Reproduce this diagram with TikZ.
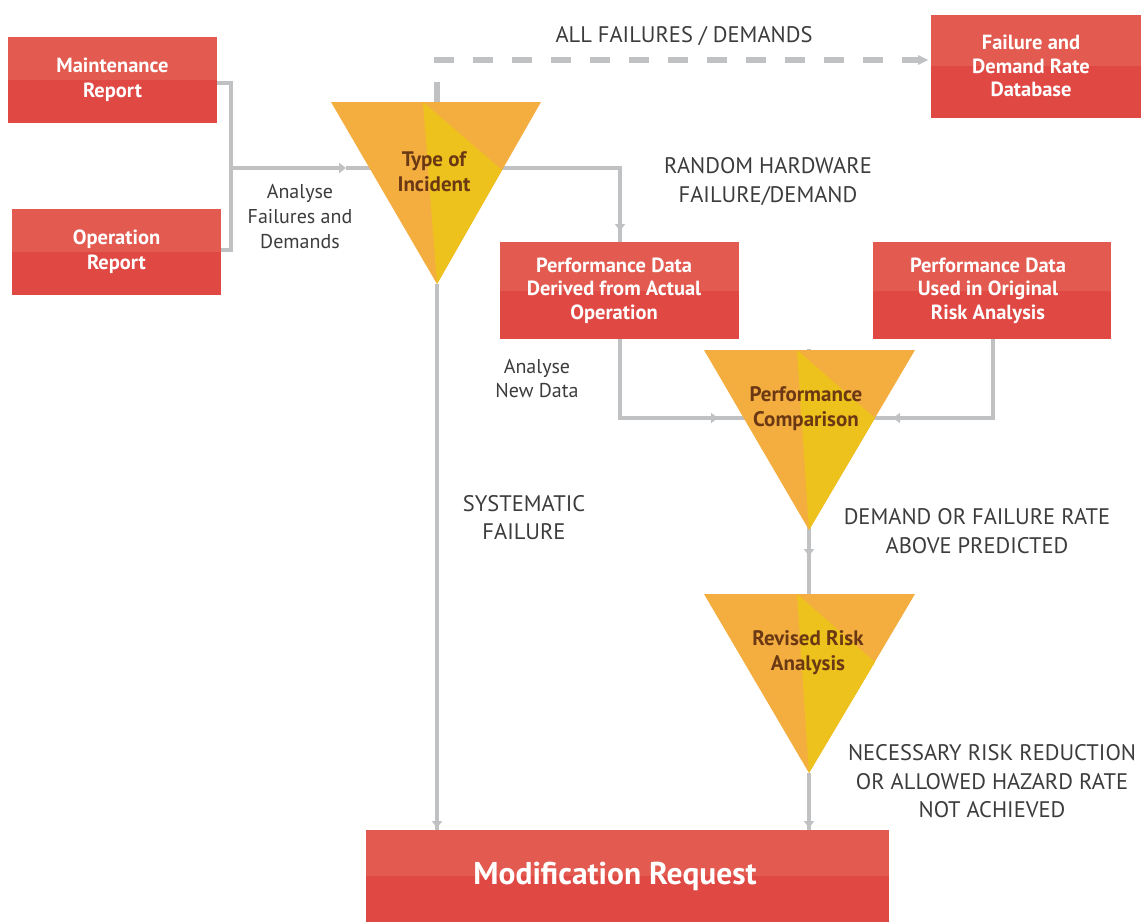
\documentclass[tikz,border=0pt]{standalone}
\usepackage{fontspec}
\setmainfont{PT Sans}
\usetikzlibrary{arrows.meta,calc}
\definecolor{boxtop}{HTML}{E25A50}
\definecolor{boxbot}{HTML}{E04844}
\definecolor{tor}{HTML}{F4AE40}
\definecolor{tye}{HTML}{EEC21C}
\definecolor{tbrown}{HTML}{6B3814}
\definecolor{lgray}{HTML}{C0C1C3}
\definecolor{tgray}{HTML}{3C3C3C}
\begin{document}
\begin{tikzpicture}[x=1pt,y=-1pt,
  box/.style={inner sep=0pt, align=center, text=white,
    font=\fontsize{20.5}{23.5}\selectfont\bfseries,
    path picture={\fill[boxbot] (path picture bounding box.south west) rectangle (path picture bounding box.north east);
      \fill[boxtop] (path picture bounding box.north west) rectangle (path picture bounding box.east);}},
  boxtext/.style={inner sep=0pt, align=center, text=white, font=\fontsize{20.5}{23.5}\selectfont\bfseries},
  trilabel/.style={align=center, text=tbrown, inner sep=0pt, font=\fontsize{21}{25}\selectfont\bfseries},
  small/.style={align=center, text=tgray, inner sep=0pt, font=\fontsize{20}{25}\selectfont},
  big/.style={align=center, text=tgray, inner sep=0pt, font=\fontsize{22.5}{29}\selectfont},
  conn/.style={draw=lgray, line width=4pt},
  arr/.style={conn, -{Triangle[length=7pt,width=10pt]}},
  dashconn/.style={draw=lgray, line width=6pt, dash pattern=on 20pt off 19pt}
]
\useasboundingbox (0,0) rectangle (1143,922);

% ---------- coordinates ----------
\coordinate (j1) at (231,168);
\coordinate (toiC) at (437,168);
\coordinate (toiTop) at (437,102);
\coordinate (toiBot) at (437,284);
\coordinate (pcTop) at (809,349);
\coordinate (pcBot) at (809,530);
\coordinate (rraTop) at (809,594);
\coordinate (rraBot) at (809,773);

% ---------- connectors (behind triangles) ----------
\draw[conn] (217,83) -| (j1) |- (221,250);
\draw[arr] (j1) -- (346,168);
\draw[conn] (346,168) -- (toiC);
\draw[conn] (toiC) -| (620,231);
\draw[conn] (620,229) -- (620,242);
\draw[arr] (620,200) -- (620,231);
\draw[dashconn] (toiTop) -- (437,60) -- (918,60);
\fill[lgray] (918,55) -- (928,60) -- (918,65) -- cycle;

\draw[conn] (620,339) |- (718,418);
\draw[arr] (680,418) -- (718,418);
\draw[conn] (716,418) -- (809,418);
\draw[conn] (993,339) |- (893,418);
\draw[arr] (930,418) -- (893,418);
\draw[conn] (895,418) -- (809,418);

\draw[conn] (pcTop) -- (rraTop);
\draw[arr] (809,530) -- (809,556);
\draw[conn] (rraBot) -- (809,830);
\draw[arr] (809,800) -- (809,828);
\draw[conn] (toiBot) -- (437,830);
\draw[arr] (437,800) -- (437,828);

% ---------- triangles ----------
\fill[tor] (331,102) -- (541,102) -- (437,284) -- cycle;
\fill[tye] (423,102) -- (502,170) -- (437,284) -- cycle;
\fill[tor] (704,350) -- (915,350) -- (809,530) -- cycle;
\fill[tye] (797,350) -- (875,418) -- (809,530) -- cycle;
\fill[tor] (704,594) -- (915,594) -- (809,773) -- cycle;
\fill[tye] (797,594) -- (875,662) -- (809,773) -- cycle;

\node[trilabel] (toi) at (434,172) {Type of\\Incident};
\node[trilabel] (pc) at (806,409) {Performance\\Comparison};
\node[trilabel] (rra) at (808,653) {Revised Risk\\Analysis};

% ---------- boxes ----------
\node[box, minimum width=209pt, minimum height=86pt, font=\fontsize{20.5}{25}\selectfont\bfseries] (mr) at (112.5,79.5) {Maintenance\\Report};
\node[box, minimum width=209pt, minimum height=86pt, font=\fontsize{20.5}{25}\selectfont\bfseries] (or) at (116.5,252) {Operation\\Report};
\node[box, minimum width=210pt, minimum height=103pt] (db) at (1036,66) {};
\node[boxtext] (dbt) at (1031,66) {Failure and\\Demand Rate\\Database};
\node[box, minimum width=239pt, minimum height=97pt] (pd1) at (619.5,290.5) {};
\node[boxtext] (pd1t) at (614,290.5) {Performance Data\\Derived from Actual\\Operation};
\node[box, minimum width=238pt, minimum height=97pt] (pd2) at (992,290.5) {};
\node[boxtext] (pd2t) at (988,290.5) {Performance Data\\Used in Original\\Risk Analysis};
\node[box, minimum width=523pt, minimum height=92pt] (mod) at (627.5,876) {};
\node[boxtext, font=\fontsize{31.5}{34}\selectfont\bfseries] (modt) at (615,876) {Modification Request};

% ---------- labels ----------
\node[big] (l1) at (684,36) {ALL FAILURES / DEMANDS};
\node[small] (l2) at (300,217) {Analyse\\Failures and\\Demands};
\node[big] (l3) at (768,181.5) {RANDOM HARDWARE\\FAILURE/DEMAND};
\node[small, font=\fontsize{20}{24}\selectfont] (l4) at (537,378) {Analyse\\New Data};
\node[big, font=\fontsize{22.5}{28}\selectfont] (l5) at (524,518) {SYSTEMATIC\\FAILURE};
\node[big] (l6) at (977,531.5) {DEMAND OR FAILURE RATE\\ABOVE PREDICTED};
\node[big, font=\fontsize{22.5}{28.5}\selectfont] (l7) at (992,781.5) {NECESSARY RISK REDUCTION\\OR ALLOWED HAZARD RATE\\NOT ACHIEVED};
\end{tikzpicture}
\end{document}
